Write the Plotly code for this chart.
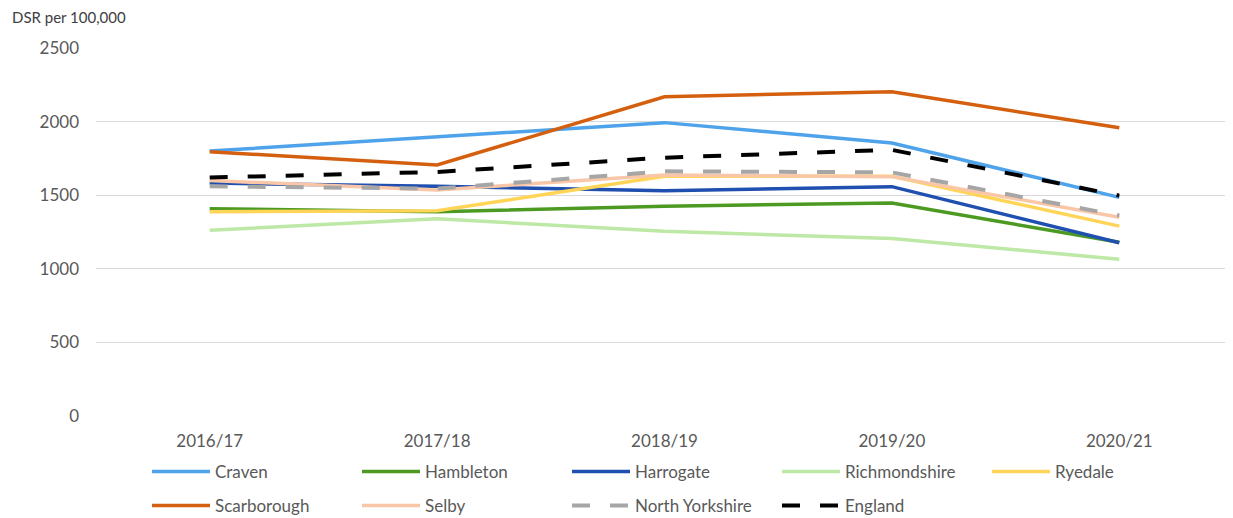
import plotly.graph_objects as go

years = ["2016/17", "2017/18", "2018/19", "2019/20", "2020/21"]

craven = [1800, 1895, 1993, 1855, 1485]
hambleton = [1408, 1388, 1425, 1447, 1180]
harrogate = [1583, 1560, 1530, 1558, 1177]
richmondshire = [1262, 1340, 1255, 1205, 1065]
ryedale = [1388, 1395, 1628, 1628, 1290]
scarborough = [1795, 1705, 2169, 2203, 1958]
selby = [1600, 1535, 1637, 1626, 1350]
north_yorkshire = [1560, 1545, 1662, 1655, 1362]
england = [1620, 1658, 1755, 1808, 1497]

series = [
    ("Craven", craven, "#4EA3EA", "solid", "legend"),
    ("Hambleton", hambleton, "#4C9A22", "solid", "legend"),
    ("Harrogate", harrogate, "#1F4FAF", "solid", "legend"),
    ("Richmondshire", richmondshire, "#BDE8A6", "solid", "legend"),
    ("Ryedale", ryedale, "#FFD457", "solid", "legend"),
    ("Scarborough", scarborough, "#D4600F", "solid", "legend2"),
    ("Selby", selby, "#F9C6A7", "solid", "legend2"),
    ("North Yorkshire", north_yorkshire, "#A6A6A6", "18px,20px", "legend2"),
    ("England", england, "#000000", "18px,20px", "legend2"),
]

# page body has an 8px margin; figure is sized to fill the remaining window
OFF = 8
W, H = 1233 - OFF, 518 - OFF

fig = go.Figure()
for name, vals, color, dash, leg in series:
    width = 4 if dash != "solid" else 3.5
    fig.add_trace(go.Scatter(
        x=years, y=vals, name=name, mode="lines",
        line=dict(color=color, width=width, dash=dash),
        legend=leg,
    ))

legend_common = dict(
    orientation="h", xref="container", yref="container",
    xanchor="left", yanchor="middle",
    entrywidth=137, entrywidthmode="pixels", itemwidth=58,
    font=dict(size=17, color="#595959"),
    bgcolor="rgba(0,0,0,0)",
)

plot_l, plot_t, plot_b = 96 - OFF, 48 - OFF, 416 - OFF
plot_w = W - plot_l
plot_h = plot_b - plot_t

fig.update_layout(
    width=W, height=H,
    margin=dict(l=plot_l, r=0, t=plot_t, b=H - plot_b, autoexpand=False),
    paper_bgcolor="white", plot_bgcolor="white",
    font=dict(family="Lato, Open Sans, sans-serif", size=17, color="#595959"),
    xaxis=dict(
        type="category", range=[-0.5, 4.5], showgrid=False, showline=False,
        ticks="", ticklabelstandoff=13,
        tickfont=dict(size=17, color="#595959"),
    ),
    yaxis=dict(
        range=[0, 2500], dtick=500, showgrid=True, gridcolor="#D9D9D9",
        gridwidth=1, zeroline=False, showline=False, ticks="",
        ticklabelstandoff=16,
        tickfont=dict(size=17, color="#595959"),
    ),
    legend=dict(x=(152 - OFF - 5) / W, y=1 - (472 - OFF) / H, **legend_common),
    legend2=dict(x=(152 - OFF - 5) / W, y=1 - (506 - OFF) / H, **legend_common),
    annotations=[dict(
        text="DSR per 100,000", xref="paper", yref="paper",
        x=(12 - OFF - plot_l) / plot_w, y=1 + (plot_t - (17 - OFF)) / plot_h,
        xanchor="left", yanchor="middle", xshift=-2,
        showarrow=False, font=dict(size=15, color="#404040"),
    )],
    showlegend=True,
)

fig.write_html("out.html")
